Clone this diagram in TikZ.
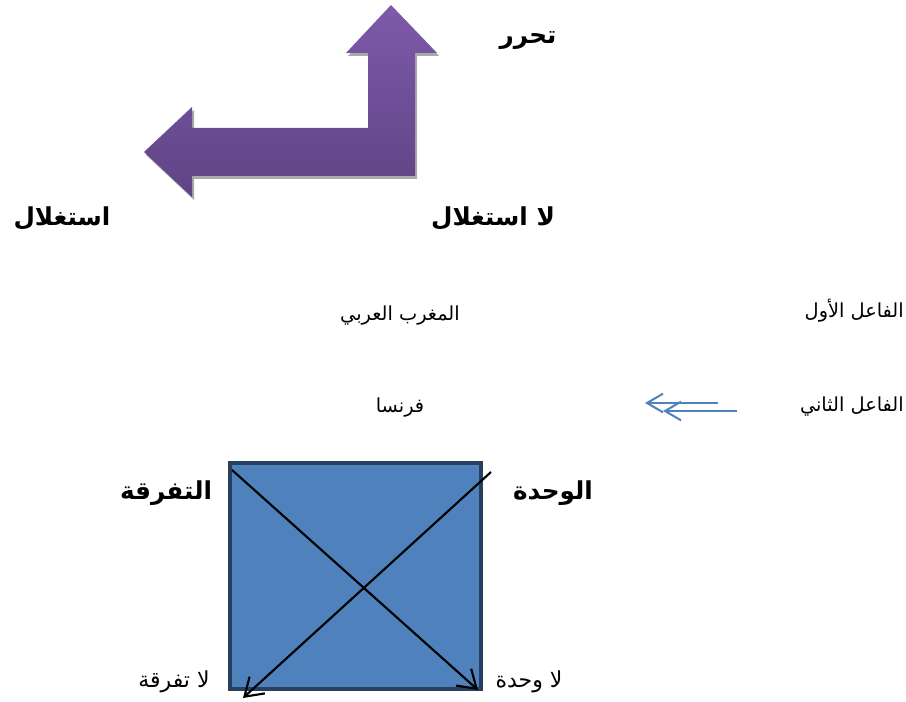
\documentclass[tikz,border=0pt]{standalone}
\usepackage{fontspec}
\usetikzlibrary{arrows.meta}
\TeXXeTstate=1
\newfontfamily\arabicfont[Script=Arabic]{DejaVu Sans}
\definecolor{sqfill}{RGB}{79,129,189}
\definecolor{sqborder}{RGB}{38,64,96}
\definecolor{purtop}{RGB}{126,90,170}
\definecolor{purbot}{RGB}{94,68,132}
\definecolor{shadowgray}{RGB}{170,170,170}
\tikzset{
  lbl/.style={font=\arabicfont\fontsize{14.5}{17}\selectfont, inner sep=0pt},
  slbl/.style={font=\arabicfont\fontsize{16.5}{19}\selectfont, inner sep=0pt},
  blbl/.style={font=\arabicfont\bfseries\fontsize{18.5}{21}\selectfont, inner sep=0pt},
  diag/.style={line width=1.6pt, -{Straight Barb[length=13pt,width=17pt,line width=1.6pt]}},
  dbl/.style={draw=sqfill, line width=1.5pt, -{Straight Barb[length=12pt,width=14pt,line width=1.5pt]}},
}
\begin{document}
\begin{tikzpicture}[x=0.75pt,y=-0.75pt]
\useasboundingbox (0,0) rectangle (906,702);
% bent arrow shadow
\fill[shadowgray] (391+2,5+3) -- (437+2,53+3) -- (415+2,53+3) -- (415+2,176+3) -- (192+2,176+3) -- (192+2,197+3) -- (144+2,152+3) -- (192+2,107+3) -- (192+2,128+3) -- (368+2,128+3) -- (368+2,53+3) -- (346+2,53+3) -- cycle;
% bent arrow
\shade[top color=purtop, bottom color=purbot] (391,5) -- (437,53) -- (415,53) -- (415,176) -- (192,176) -- (192,197) -- (144,152) -- (192,107) -- (192,128) -- (368,128) -- (368,53) -- (346,53) -- cycle;
% labels
\node[blbl] (tahrur) at (528,40) {\beginR تحرر\endR};
\node[blbl] (istighlal) at (62,218) {\beginR استغلال\endR};
\node[blbl] (laistighlal) at (493,218) {\beginR لا استغلال\endR};
\node[lbl, anchor=east] (faail1) at (904,311) {\beginR الفاعل الأول\endR};
\node[lbl] (maghrib) at (400,316) {\beginR المغرب العربي\endR};
\node[lbl, anchor=east] (faail2) at (904,407) {\beginR الفاعل الثاني\endR};
\node[lbl] (faransa) at (400,408) {\beginR فرنسا\endR};
% double arrow
\coordinate (d1s) at (718,403);
\coordinate (d1e) at (645,403);
\coordinate (d2s) at (737,411);
\coordinate (d2e) at (663,411);
\draw[dbl] (d1s) -- (d1e);
\draw[dbl] (d2s) -- (d2e);
% square
\node[draw=sqborder, fill=sqfill, line width=3pt, minimum width=251pt*0.75, minimum height=226pt*0.75, inner sep=0pt] (sq) at (355.5,576) {};
\coordinate (a1) at (232,470);
\coordinate (a2) at (478,690);
\coordinate (b1) at (491,472);
\coordinate (b2) at (243,698);
\draw[diag] (a1) -- (a2);
\draw[diag] (b1) -- (b2);
\node[blbl] (wahda) at (553,493) {\beginR الوحدة\endR};
\node[blbl] (tafriqa) at (166,493) {\beginR التفرقة\endR};
\node[slbl] (lawahda) at (529,682) {\beginR لا وحدة\endR};
\node[slbl] (latafriqa) at (174,682) {\beginR لا تفرقة\endR};
\end{tikzpicture}
\end{document}
